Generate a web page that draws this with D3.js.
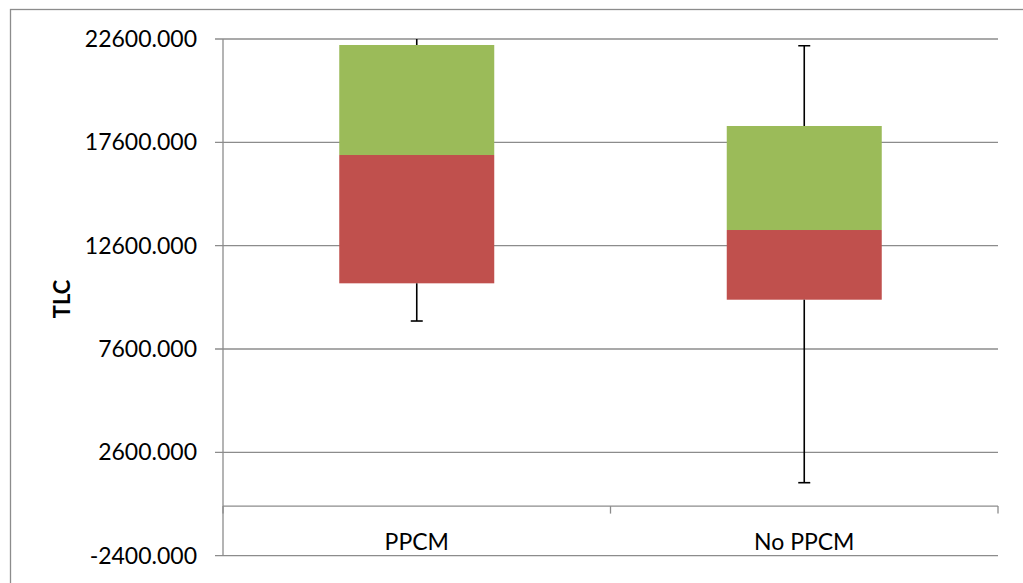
<!DOCTYPE html>
<html>
<head>
<meta charset="utf-8">
<script src="https://cdn.jsdelivr.net/npm/d3@7"></script>
<style>
  html, body { margin: 0; padding: 0; background: #fff; }
  svg { display: block; }
</style>
</head>
<body>
<svg id="chart" width="1023" height="583"></svg>
<script>
// ---- data ----
const categories = ["PPCM", "No PPCM"];
const minValues    = [8955, 1132];
const q1Values     = [10779, 9986];
const medianValues = [16987, 13358];
const q3Values     = [22310, 18391];
const maxValues    = [22800, 22276];
const yTicks = [-2400, 2600, 7600, 12600, 17600, 22600];
const yTitle = "TLC";

const rows = categories.map((c, i) => ({
  cat: c, min: minValues[i], q1: q1Values[i], med: medianValues[i], q3: q3Values[i], max: maxValues[i]
}));

const svg = d3.select("#chart");
const pLeft = 223, pRight = 998, pTop = 39, pBottom = 555.7;
const font = "Lato, 'Liberation Sans', Arial, sans-serif";

// outer chart border
svg.append("rect").attr("x", 10.5).attr("y", 9.5).attr("width", 1040).attr("height", 600)
  .attr("fill", "none").attr("stroke", "#8c8c8c").attr("stroke-width", 1.3);

const y = d3.scaleLinear().domain([-2400, 22600]).range([pBottom, pTop]);
const x = d3.scaleBand().domain(categories).range([pLeft, pRight]).paddingInner(0.6).paddingOuter(0.3);
const xCat = d3.scaleBand().domain(categories).range([pLeft, pRight]).padding(0);

svg.append("defs").append("clipPath").attr("id", "clip")
  .append("rect").attr("x", pLeft).attr("y", pTop).attr("width", pRight - pLeft).attr("height", pBottom - pTop);

// gridlines
svg.append("g").selectAll("line").data(yTicks).join("line")
  .attr("x1", 215).attr("x2", pRight)
  .attr("y1", d => y(d)).attr("y2", d => y(d))
  .attr("stroke", "#8c8c8c").attr("stroke-width", 1.3);

// y axis line
svg.append("line").attr("x1", pLeft).attr("x2", pLeft).attr("y1", pTop).attr("y2", pBottom)
  .attr("stroke", "#8c8c8c").attr("stroke-width", 1.3);

// y axis labels
const fmt = d3.formatLocale({decimal: ".", thousands: "", grouping: [3], currency: ["", ""], minus: "-"}).format(".3f");
const yAxis = d3.axisLeft(y).tickValues(yTicks).tickFormat(fmt).tickSize(0).tickPadding(26);
const ya = svg.append("g").attr("transform", `translate(${pLeft},0)`).call(yAxis);
ya.select(".domain").remove();
ya.selectAll("text").attr("font-family", font).attr("font-size", 23).attr("fill", "#000");

// y title
svg.append("text").attr("transform", "translate(70,299) rotate(-90)")
  .attr("text-anchor", "middle").attr("font-family", font).attr("font-weight", "bold")
  .attr("font-size", 22).attr("fill", "#000").text(yTitle);

// category axis at 0
const y0 = y(0);
svg.append("line").attr("x1", pLeft).attr("x2", pRight).attr("y1", y0).attr("y2", y0)
  .attr("stroke", "#8c8c8c").attr("stroke-width", 1.3);
const catTicks = [pLeft, ...categories.slice(1).map(c => xCat(c)), pRight];
svg.append("g").selectAll("line").data(catTicks).join("line")
  .attr("x1", d => d).attr("x2", d => d).attr("y1", y0).attr("y2", y0 + 7.5)
  .attr("stroke", "#8c8c8c").attr("stroke-width", 1.3);
svg.append("g").selectAll("text").data(categories).join("text")
  .attr("x", d => xCat(d) + xCat.bandwidth() / 2).attr("y", 550)
  .attr("text-anchor", "middle").attr("font-family", font).attr("font-size", 23)
  .attr("fill", "#000").text(d => d);

// boxes
const boxes = svg.append("g");
boxes.selectAll("rect.lower").data(rows).join("rect").attr("class", "lower")
  .attr("x", d => x(d.cat)).attr("width", x.bandwidth())
  .attr("y", d => y(d.med)).attr("height", d => y(d.q1) - y(d.med))
  .attr("fill", "#C0504D");
boxes.selectAll("rect.upper").data(rows).join("rect").attr("class", "upper")
  .attr("x", d => x(d.cat)).attr("width", x.bandwidth())
  .attr("y", d => y(d.q3)).attr("height", d => y(d.med) - y(d.q3))
  .attr("fill", "#9BBB59");

// whiskers
const wh = svg.append("g").attr("clip-path", "url(#clip)").attr("stroke", "#000").attr("stroke-width", 1.6);
rows.forEach(d => {
  const cx = x(d.cat) + x.bandwidth() / 2;
  wh.append("line").attr("x1", cx).attr("x2", cx).attr("y1", y(d.q3)).attr("y2", y(d.max));
  wh.append("line").attr("x1", cx - 6).attr("x2", cx + 6).attr("y1", y(d.max)).attr("y2", y(d.max));
  wh.append("line").attr("x1", cx).attr("x2", cx).attr("y1", y(d.q1)).attr("y2", y(d.min));
  wh.append("line").attr("x1", cx - 6).attr("x2", cx + 6).attr("y1", y(d.min)).attr("y2", y(d.min));
});
</script>
</body>
</html>
